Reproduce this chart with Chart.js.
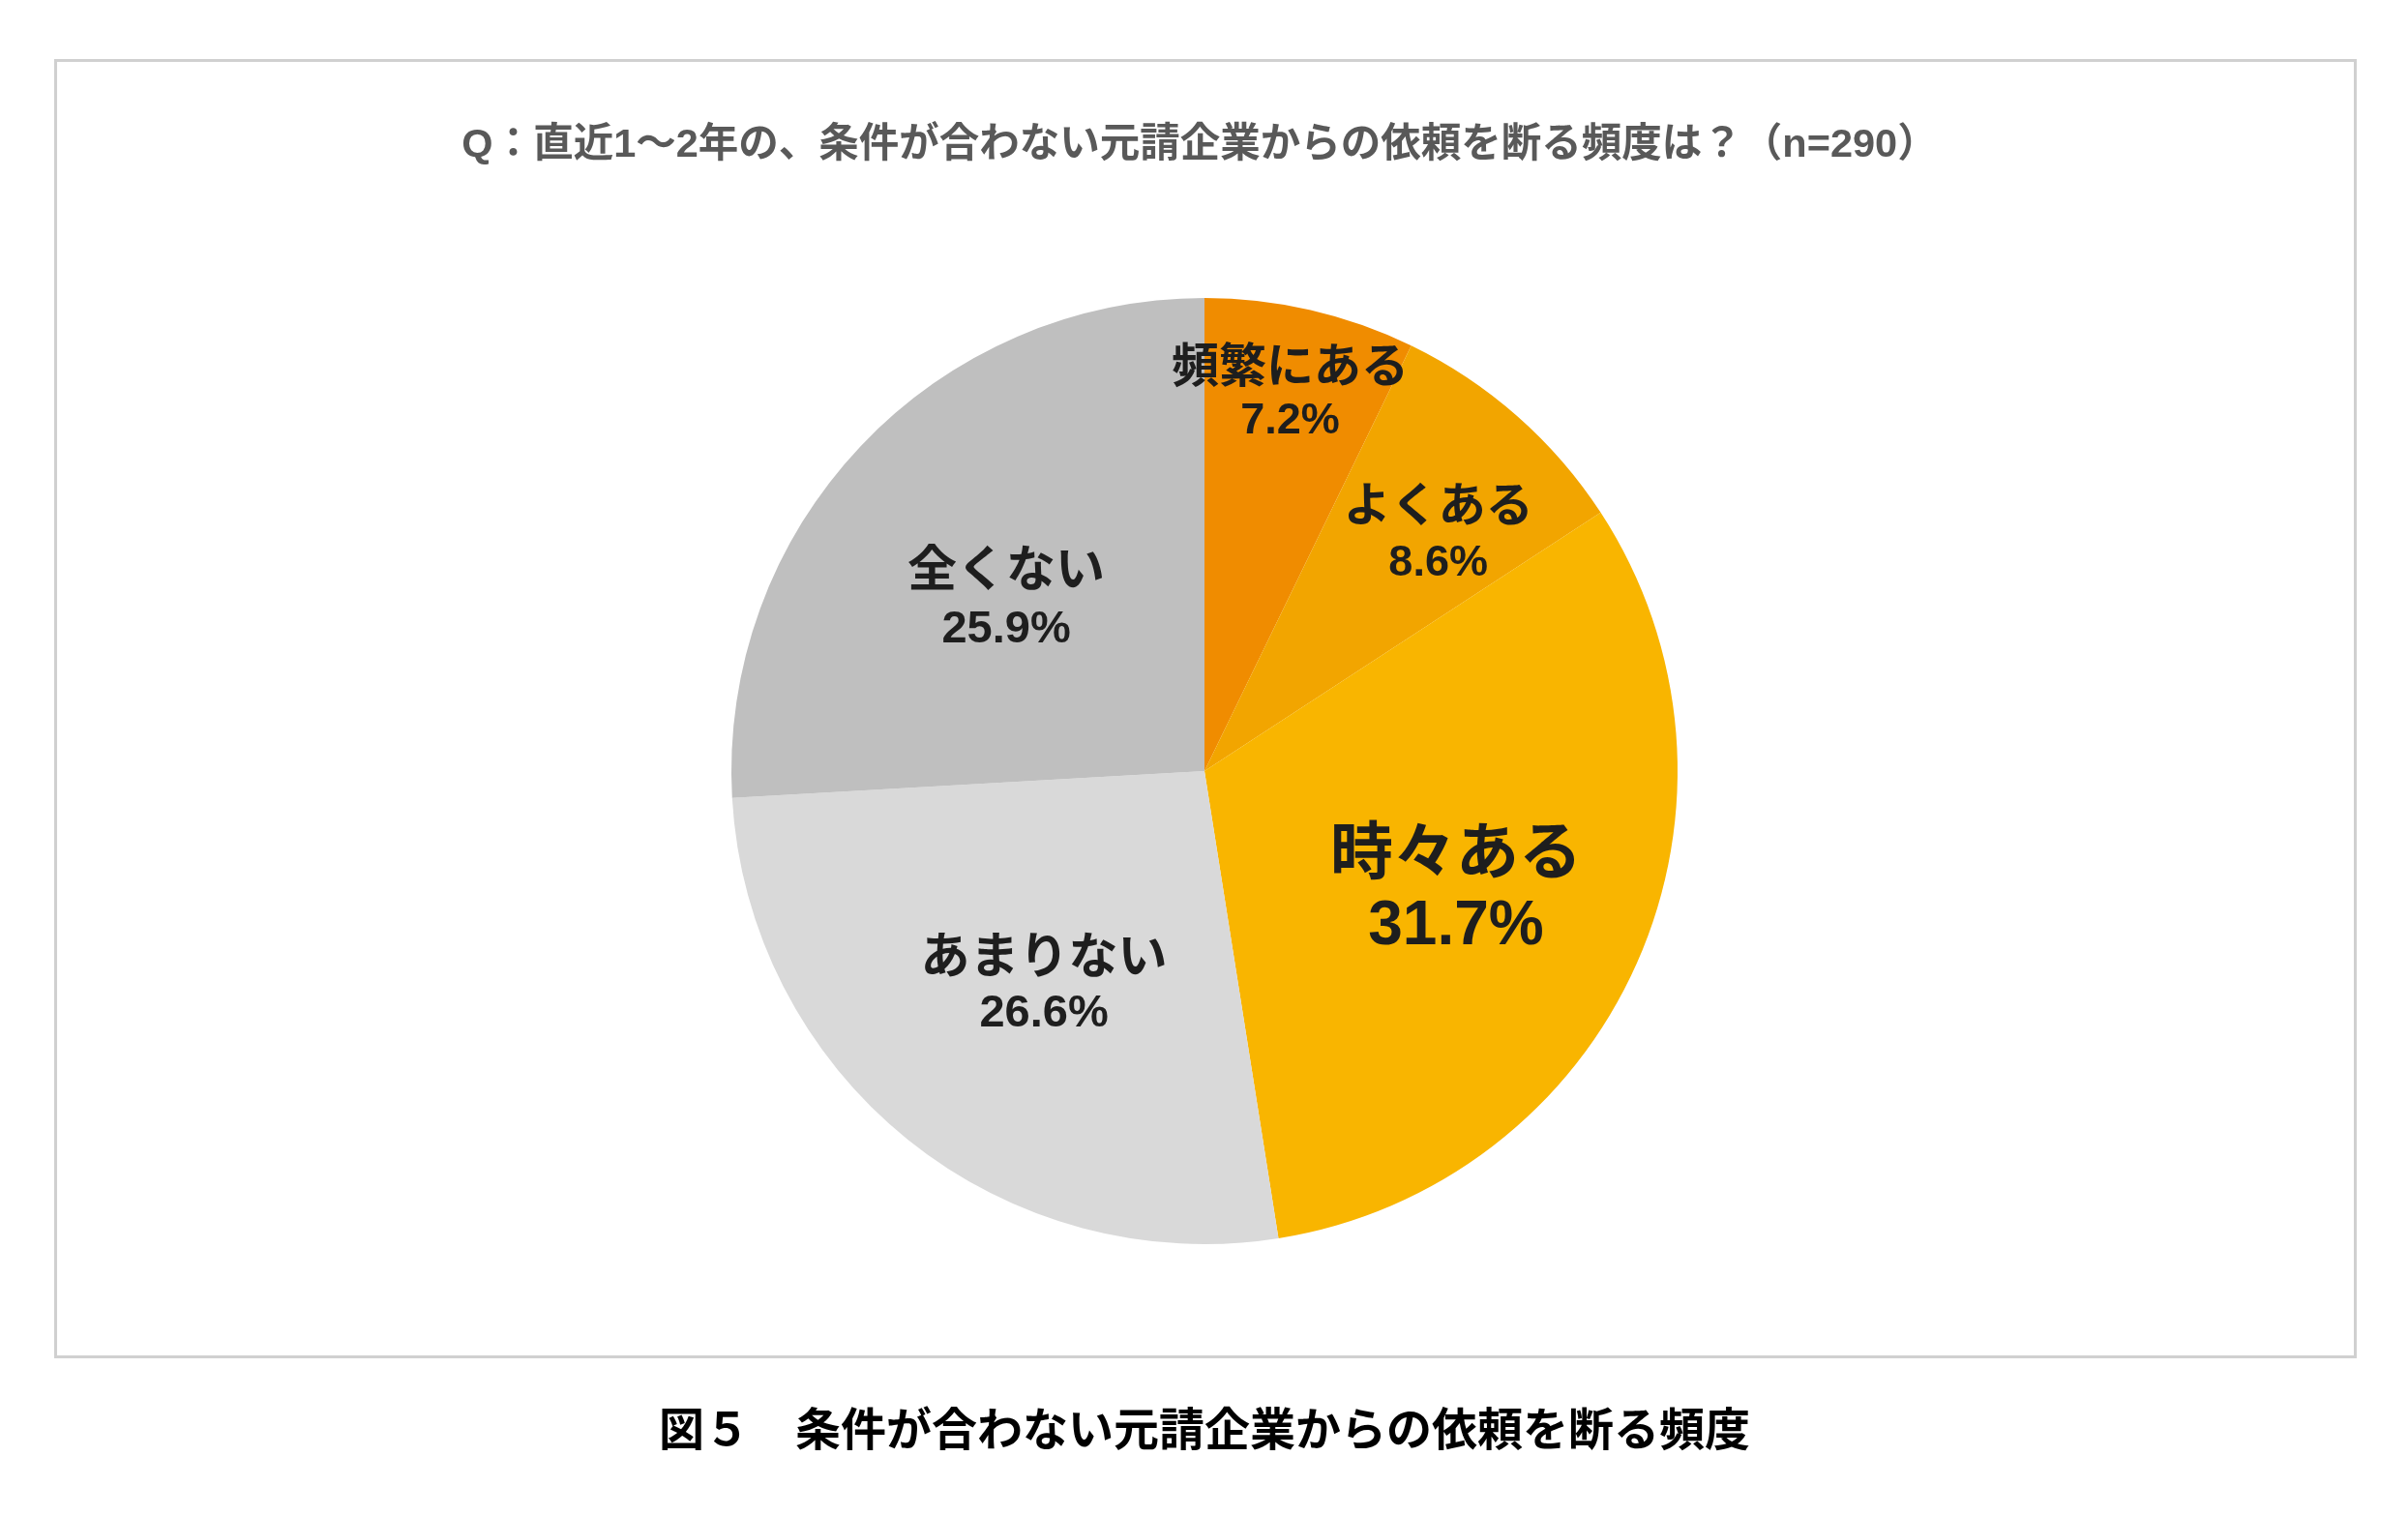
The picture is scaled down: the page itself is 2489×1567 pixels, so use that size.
<!DOCTYPE html>
<html lang="ja">
<head>
<meta charset="utf-8">
<script src="https://cdn.jsdelivr.net/npm/chart.js@4.4.1/dist/chart.umd.min.js"></script>
<style>
  html, body { margin: 0; padding: 0; background: #ffffff; }
  #wrap { width: 2489px; height: 1567px; position: relative; }
  canvas { display: block; }
</style>
</head>
<body>
<div id="wrap"><canvas id="c" width="2489" height="1567"></canvas></div>
<script>
const titleText = 'Q：直近1～2年の、条件が合わない元請企業からの依頼を断る頻度は？（n=290）';
const captionText = '図５　条件が合わない元請企業からの依頼を断る頻度';
const categories = ['頻繁にある', 'よくある', '時々ある', 'あまりない', '全くない'];
const values = [7.2, 8.6, 31.7, 26.6, 25.9];
const colors = ['#F08C00', '#F2A500', '#F9B500', '#D9D9D9', '#BFBFBF'];

// label placement (fraction of radius, angular nudge in degrees) and style
const labelRadius = [0.820, 0.705, 0.587, 0.564, 0.555];
const labelAngleNudge = [-0.2, 3.1, 1.15, -1.9, -2.4];
const nameSize = [49, 49, 65, 51, 51];
const numSize = [45, 45, 64, 47, 47];
const labelGap = [59, 62, 80, 62, 65];

const JP = '"Noto Sans CJK JP", sans-serif';
const LAT = '"Liberation Sans", Arial, sans-serif';

const framePlugin = {
  id: 'frame',
  beforeDraw(chart) {
    const ctx = chart.ctx;
    ctx.save();
    ctx.fillStyle = '#ffffff';
    ctx.fillRect(0, 0, chart.width, chart.height);
    ctx.strokeStyle = '#D0D0D0';
    ctx.lineWidth = 3;
    ctx.strokeRect(57.5, 62.5, 2377, 1340);
    ctx.restore();
  },
  afterDraw(chart) {
    const ctx = chart.ctx;
    ctx.save();
    ctx.textAlign = 'center';
    ctx.textBaseline = 'middle';
    ctx.fillStyle = '#595959';
    ctx.font = 'bold 41.5px "Liberation Sans", "Noto Sans CJK JP", sans-serif';
    ctx.fillText(titleText, 1240, 151);
    ctx.fillStyle = '#000000';
    ctx.font = 'bold 47px ' + JP;
    ctx.fillText(captionText, 1245, 1476);
    ctx.restore();
  }
};

const labelPlugin = {
  id: 'sliceLabels',
  afterDatasetsDraw(chart) {
    const ctx = chart.ctx;
    const meta = chart.getDatasetMeta(0);
    ctx.save();
    ctx.textAlign = 'center';
    ctx.textBaseline = 'middle';
    ctx.fillStyle = '#1E1E1E';
    meta.data.forEach((arc, i) => {
      const p = arc.getProps(['x', 'y', 'startAngle', 'endAngle', 'outerRadius'], true);
      const mid = (p.startAngle + p.endAngle) / 2 + labelAngleNudge[i] * Math.PI / 180;
      const r = p.outerRadius * labelRadius[i];
      const cx = p.x + Math.cos(mid) * r;
      const cy = p.y + Math.sin(mid) * r;
      ctx.font = 'bold ' + nameSize[i] + 'px ' + JP;
      ctx.fillText(categories[i], cx, cy - labelGap[i] / 2);
      ctx.font = 'bold ' + numSize[i] + 'px ' + LAT;
      ctx.fillText(values[i].toFixed(1) + '%', cx, cy + labelGap[i] / 2);
    });
    ctx.restore();
  }
};

new Chart(document.getElementById('c'), {
  type: 'pie',
  data: {
    labels: categories,
    datasets: [{
      data: values,
      backgroundColor: colors,
      borderWidth: 0
    }]
  },
  options: {
    responsive: false,
    devicePixelRatio: 1,
    animation: false,
    events: [],
    layout: { padding: { left: 756, right: 755, top: 308, bottom: 281 } },
    plugins: {
      legend: { display: false },
      tooltip: { enabled: false },
      title: { display: false }
    }
  },
  plugins: [framePlugin, labelPlugin]
});
</script>
</body>
</html>
